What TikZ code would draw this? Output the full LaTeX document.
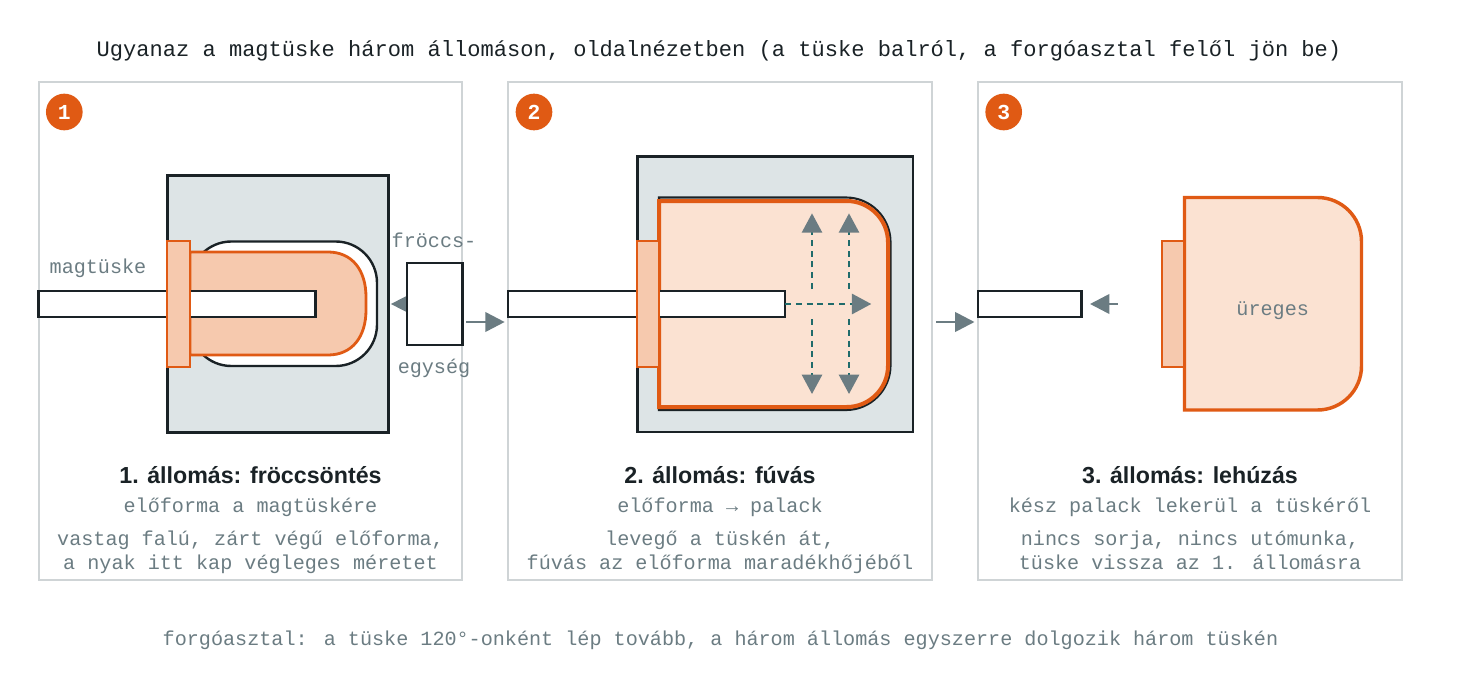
\documentclass[tikz,border=0pt]{standalone}
\usepackage{fontspec}
\setmainfont{Liberation Sans}
\newfontfamily\monof{Liberation Mono}
\newfontfamily\headf{Liberation Sans}
\usetikzlibrary{arrows.meta}
\definecolor{ink}{HTML}{1A2226}
\definecolor{muted}{HTML}{6B7C82}
\definecolor{orng}{HTML}{E05A14}
\definecolor{neckc}{HTML}{F6C9AE}
\definecolor{bodyc}{HTML}{FBE2D2}
\definecolor{moldc}{HTML}{DDE4E6}
\definecolor{framec}{HTML}{CFD4D6}
\definecolor{airc}{HTML}{1F6B6B}
\tikzset{
  x=.75pt,y=-.75pt,
  base/.style={inner sep=0pt,outer sep=0pt},
  panel/.style={base,draw=framec,line width=1.5pt,fill=white},
  mold/.style={base,draw=ink,line width=2.1pt,fill=moldc},
  pin/.style={base,draw=ink,line width=2.2pt,fill=white},
  neck/.style={base,draw=orng,line width=2.2pt,fill=neckc},
  cavity/.style={draw=ink,line width=1.8pt,fill=white},
  preform/.style={draw=orng,line width=2.1pt,fill=neckc},
  bottle/.style={draw=orng,line width=3pt,fill=bodyc},
  badge/.style={circle,base,fill=orng,minimum size=27.5pt,text=white,font=\monof\bfseries\fontsize{16}{16}\selectfont},
  mono/.style={base,anchor=base,text=muted,font=\monof\fontsize{15.1}{15.1}\selectfont},
  toptext/.style={base,anchor=base,text=ink,font=\monof\fontsize{16.55}{16.55}\selectfont},
  head/.style={base,anchor=base,text=ink,font=\headf\bfseries\fontsize{17.4}{17.4}\selectfont},
  flow/.style={draw=muted,line width=2pt,-{Triangle[length=14.5pt,width=14.5pt,fill=muted,color=muted]}},
  small/.style={draw=muted,line width=2pt,-{Triangle[length=12pt,width=11.5pt,fill=muted,color=muted]}},
  air/.style={draw=airc,line width=2pt,dash pattern=on 4.5pt off 3.6pt,-{Triangle[length=14.5pt,width=15pt,fill=muted,color=muted]}},
}
\newcommand{\bx}[6]{\node[#2,minimum width={(#5-#3)*.75pt},minimum height={(#6-#4)*.75pt}] (#1) at ({(#3+#5)/2},{(#4+#6)/2}) {};}
\begin{document}
\begin{tikzpicture}
\useasboundingbox (0,0) rectangle (1460,685);
\fill[white] (0,0) rectangle (1460,685);
\node[toptext] (title) at (719,57) {Ugyanaz a magtüske három állomáson, oldalnézetben (a tüske balról, a forgóasztal felől jön be)};
% panels
\bx{p1}{panel}{38.5}{82.5}{462}{580}
\bx{p2}{panel}{508}{82.5}{932}{580}
\bx{p3}{panel}{978}{82.5}{1402}{580}
\node[badge] (b1) at (64.3,112) {1};
\node[badge] (b2) at (534,112) {2};
\node[badge] (b3) at (1003.7,112) {3};
% station 1
\bx{mold1}{mold}{167.5}{175.5}{388.5}{432.5}
\draw[cavity,rounded corners=31pt] (190,241.5) rectangle (377,366);
\draw[preform] (190,252) -- (328,252) .. controls (352,252) and (366,270) .. (366,297) -- (366,310) .. controls (366,337) and (352,355) .. (328,355) -- (190,355) -- cycle;
\bx{pin1}{pin}{38.5}{291}{315.5}{317}
\bx{neck1}{neck}{167}{241}{190}{367}
\draw[small] (406,304) -- (390.7,304) coordinate (a0e);
\bx{unit1}{pin}{407}{263}{462.3}{345}
\node[mono] (lab1) at (98,273) {magtüske};
\node[mono] (lab2) at (434,247) {fröccs-};
\node[mono] (lab3) at (434,373) {egység};
% station 2
\bx{mold2}{mold}{637.5}{156.5}{913}{432}
\draw[cavity,line width=1.6pt,rounded corners=33.5pt] (659,410) -- (890.5,410) -- (890.5,197.5) [sharp corners] -- (659,197.5) -- cycle;
\draw[bottle] (659,201) [rounded corners=31pt] -- (888,201) -- (888,407) [sharp corners] -- (659,407) -- cycle;
\bx{pin2}{pin}{508}{291}{785}{317}
\bx{neck2}{neck}{637}{241}{659}{367}
\coordinate (u1s) at (812,289); \coordinate (u1e) at (812,213.3);
\coordinate (u2s) at (849,289); \coordinate (u2e) at (849,213.3);
\coordinate (d1s) at (812,319); \coordinate (d1e) at (812,394);
\coordinate (d2s) at (849,319); \coordinate (d2e) at (849,394);
\coordinate (he) at (871.3,304);
\draw[air] (u1s) -- (u1e);
\draw[air] (u2s) -- (u2e);
\draw[air] (d1s) -- (d1e);
\draw[air] (d2s) -- (d2e);
\draw[air] (pin2.east) -- (he);
% station 3
\bx{pin3}{pin}{978}{291}{1081.5}{317}
\draw[bottle,line width=2.6pt] (1184.5,197.5) [rounded corners=33pt] -- (1361.5,197.5) -- (1361.5,410) [sharp corners] -- (1184.5,410) -- cycle;
\bx{neck3}{neck}{1162}{241}{1184}{367}
\node[mono] (lab4) at (1272.7,315) {üreges};
\coordinate (r3s) at (1117.7,304); \coordinate (r3e) at (1090,304);
\draw[flow] (r3s) -- (r3e);
% between panels
\coordinate (a1s) at (466,322); \coordinate (a1e) at (504.7,322);
\coordinate (a2s) at (936,322); \coordinate (a2e) at (974.5,322);
\draw[flow] (a1s) -- (a1e);
\draw[flow] (a2s) -- (a2e);
% captions
\node[head] (h1) at (250.5,483) {1. állomás: fröccsöntés};
\node[mono] (s1) at (250.5,512) {előforma a magtüskére};
\node[mono] (d1a) at (250.5,545) {vastag falú, zárt végű előforma,};
\node[mono] (d1b) at (250.5,569) {a nyak itt kap végleges méretet};
\node[head] (h2) at (720,483) {2. állomás: fúvás};
\node[mono] (s2) at (720,512) {előforma → palack};
\node[mono] (d2a) at (720,545) {levegő a tüskén át,};
\node[mono] (d2b) at (720,569) {fúvás az előforma maradékhőjéből};
\node[head] (h3) at (1190,483) {3. állomás: lehúzás};
\node[mono] (s3) at (1190,512) {kész palack lekerül a tüskéről};
\node[mono] (d3a) at (1190,545) {nincs sorja, nincs utómunka,};
\node[mono] (d3b) at (1190,569) {tüske vissza az 1. állomásra};
\node[mono] (foot) at (720.5,645) {forgóasztal: a tüske 120°-onként lép tovább, a három állomás egyszerre dolgozik három tüskén};
\end{tikzpicture}
\end{document}
